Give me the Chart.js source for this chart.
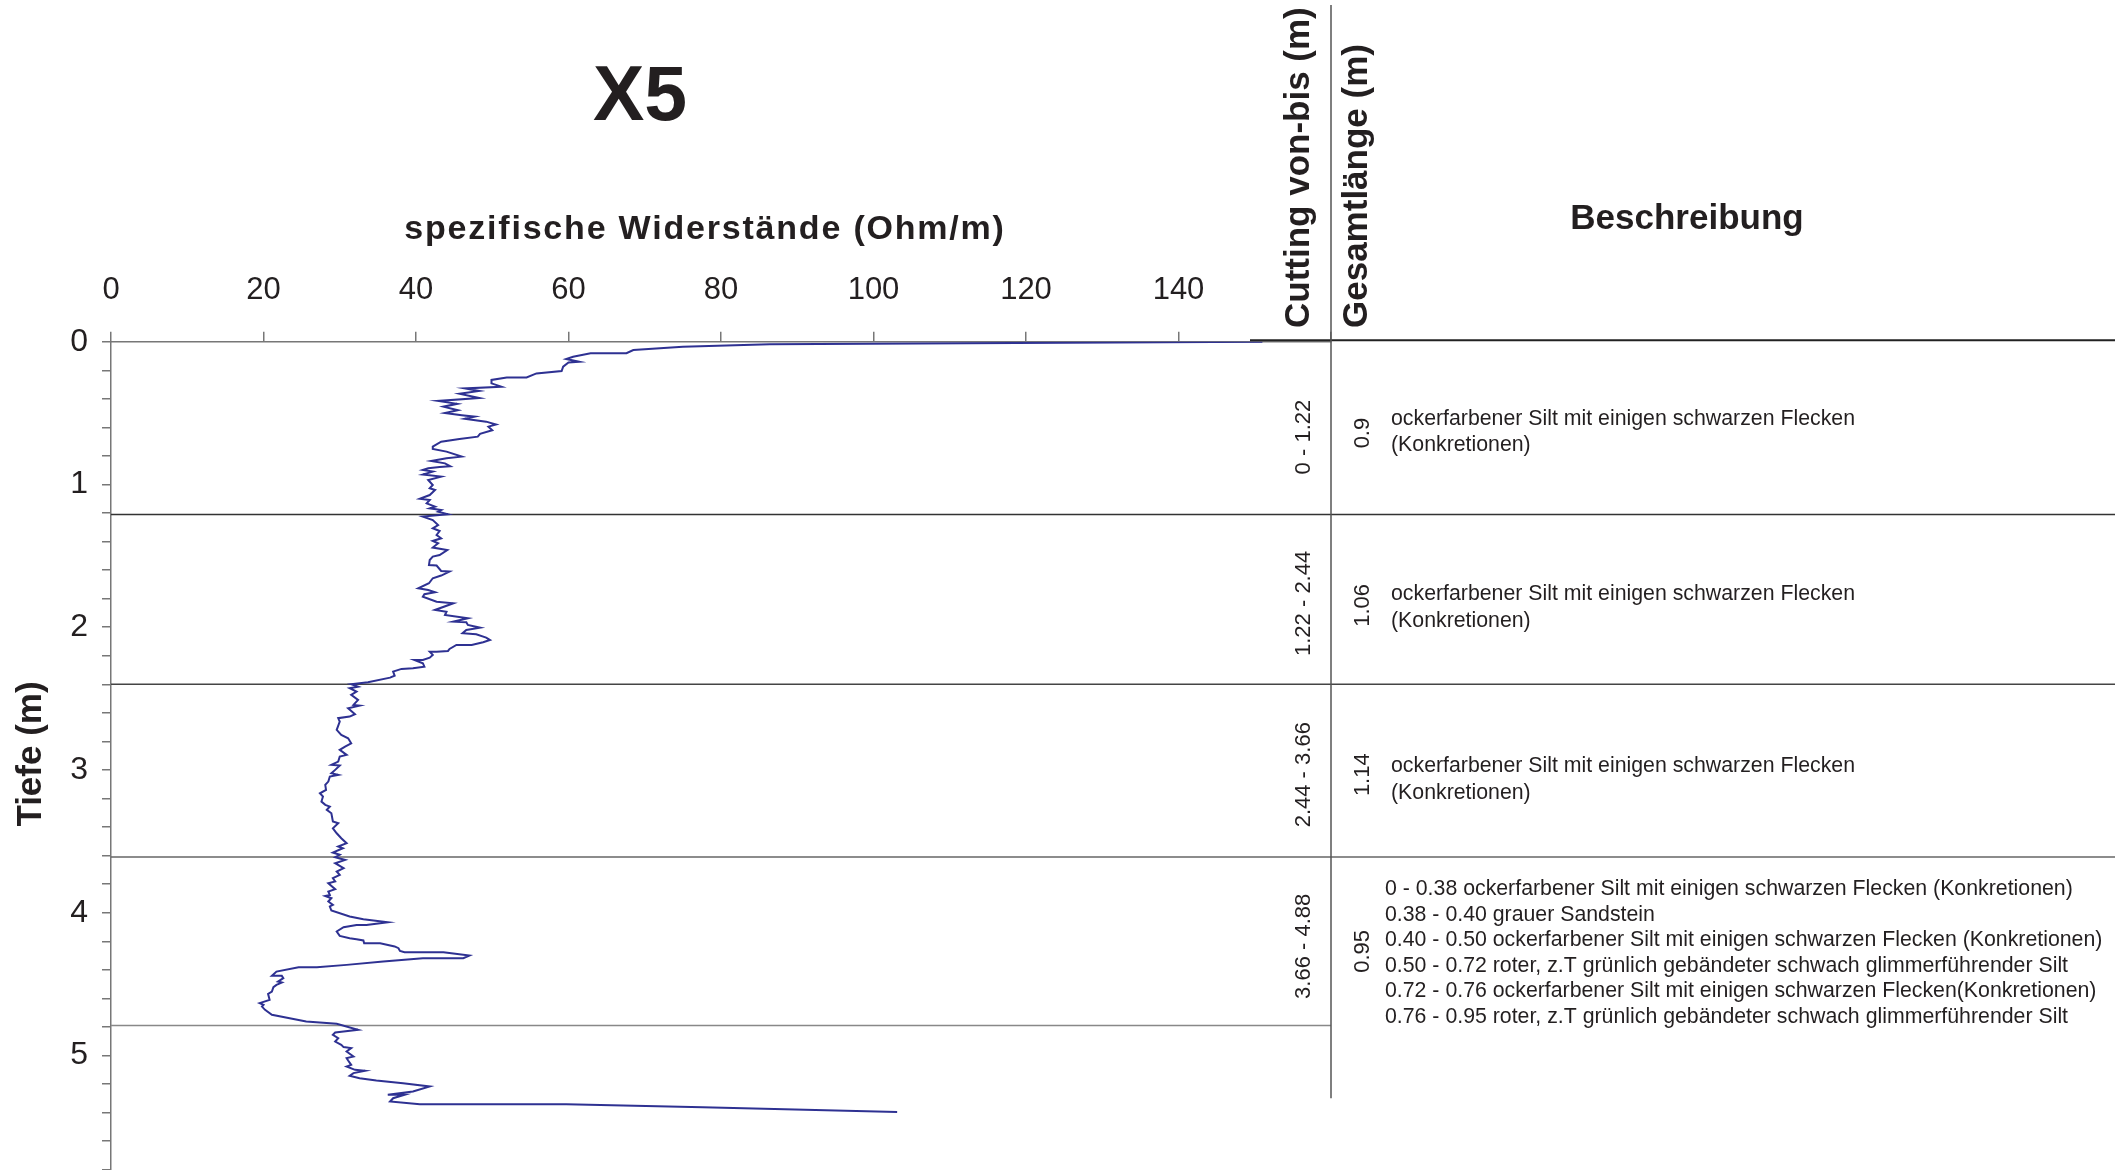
<!DOCTYPE html>
<html lang="de">
<head>
<meta charset="utf-8">
<title>X5</title>
<script src="https://cdn.jsdelivr.net/npm/chart.js@4.4.1/dist/chart.umd.min.js"></script>
<style>
  html, body { margin: 0; padding: 0; background: #ffffff; overflow: hidden; }
  canvas { display: block; }
</style>
</head>
<body>
<canvas id="c" width="2123" height="1230"></canvas>
<script>
// ---------- data ----------
const chartTitle = 'X5';
const xAxisTitle = 'spezifische Widerstände (Ohm/m)';
const yAxisTitle = 'Tiefe (m)';
const xTicks = [0, 20, 40, 60, 80, 100, 120, 140];
const yTickLabels = [0, 1, 2, 3, 4, 5];

const resistivity = [
  151.0, 86.4, 75.0, 68.5, 67.6, 62.9, 60.6, 59.7, 61.4, 60.0, 59.3, 59.1, 55.8, 54.5, 51.9, 49.9, 49.9, 51.2, 46.4, 48.3,
  45.7, 48.3, 42.9, 45.4, 43.6, 45.5, 43.8, 46.0, 47.7, 46.4, 49.2, 50.5, 49.5, 50.0, 48.4, 48.1, 45.7, 43.3, 42.2, 42.2,
  44.0, 46.0, 44.0, 42.0, 43.8, 44.5, 43.1, 41.6, 40.9, 42.2, 40.9, 43.3, 41.6, 42.2, 41.8, 42.5, 41.8, 40.5, 41.8, 41.4,
  42.5, 41.8, 43.3, 42.9, 44.2, 40.9, 42.2, 42.9, 42.2, 43.1, 42.7, 43.3, 42.2, 42.9, 42.2, 44.1, 43.1, 42.2, 41.8, 41.7,
  42.7, 43.3, 44.4, 43.3, 42.2, 41.7, 40.3, 41.6, 42.5, 41.1, 40.9, 42.7, 44.9, 42.5, 44.0, 43.8, 46.8, 44.9, 46.6, 46.8,
  48.4, 46.6, 46.1, 47.9, 49.2, 49.7, 48.8, 47.3, 45.3, 44.4, 44.2, 42.7, 41.8, 42.2, 41.8, 40.9, 39.8, 40.9, 41.1, 39.6,
  38.1, 37.0, 37.2, 36.6, 33.7, 31.5, 32.4, 31.3, 32.2, 31.5, 32.4, 31.8, 32.6, 31.1, 32.0, 31.3, 29.8, 30.0, 29.6, 30.2,
  31.1, 31.5, 30.7, 30.0, 30.9, 30.0, 29.8, 28.9, 30.0, 29.4, 28.9, 29.8, 28.7, 28.5, 28.1, 28.2, 27.4, 27.8, 27.6, 28.1,
  28.7, 28.3, 28.9, 29.1, 29.8, 29.1, 29.6, 30.2, 30.9, 29.8, 30.4, 29.1, 30.0, 29.4, 30.7, 29.4, 30.5, 29.6, 30.0, 29.1,
  29.4, 28.5, 29.4, 28.5, 28.7, 28.1, 28.9, 28.5, 29.1, 28.7, 28.9, 31.3, 33.1, 36.3, 33.5, 32.2, 30.5, 29.6, 30.0, 31.3,
  32.2, 33.1, 33.2, 35.3, 37.2, 37.7, 37.9, 38.5, 43.6, 47.0, 46.2, 40.9, 35.7, 30.9, 27.0, 24.6, 21.7, 21.1, 22.4, 22.6,
  21.9, 22.4, 21.7, 21.3, 21.1, 20.6, 20.8, 19.5, 20.0, 19.8, 20.2, 21.1, 25.6, 29.6, 32.4, 30.5, 29.4, 29.1, 29.8, 29.4,
  30.2, 30.5, 31.5, 30.9, 31.8, 30.9, 31.1, 31.5, 30.9, 32.0, 33.3, 31.8, 31.3, 32.6, 34.8, 38.3, 41.8, 39.6, 36.3, 38.5,
  37.0, 36.6, 40.5, 59.7, 77.6, 103.1
];
const depth = [
  0.000, 0.018, 0.035, 0.058, 0.081, 0.081, 0.105, 0.121, 0.140, 0.145, 0.175, 0.205, 0.222, 0.250, 0.250, 0.268, 0.292, 0.315, 0.327, 0.345,
  0.365, 0.395, 0.415, 0.435, 0.455, 0.480, 0.500, 0.515, 0.525, 0.540, 0.560, 0.580, 0.595, 0.620, 0.645, 0.665, 0.681, 0.700, 0.735, 0.751,
  0.770, 0.805, 0.817, 0.835, 0.852, 0.872, 0.878, 0.887, 0.898, 0.910, 0.930, 0.945, 0.969, 1.004, 1.027, 1.039, 1.074, 1.100, 1.109, 1.132,
  1.155, 1.167, 1.179, 1.190, 1.209, 1.225, 1.249, 1.284, 1.307, 1.326, 1.354, 1.377, 1.396, 1.412, 1.442, 1.459, 1.494, 1.505, 1.529, 1.564,
  1.568, 1.606, 1.610, 1.638, 1.657, 1.692, 1.727, 1.739, 1.755, 1.769, 1.786, 1.821, 1.832, 1.879, 1.891, 1.914, 1.937, 1.961, 1.965, 1.984,
  2.003, 2.019, 2.042, 2.049, 2.073, 2.089, 2.105, 2.124, 2.124, 2.152, 2.166, 2.171, 2.171, 2.194, 2.213, 2.229, 2.229, 2.252, 2.276, 2.287,
  2.292, 2.311, 2.339, 2.353, 2.385, 2.399, 2.416, 2.427, 2.451, 2.474, 2.509, 2.544, 2.549, 2.567, 2.609, 2.626, 2.637, 2.661, 2.719, 2.754,
  2.778, 2.813, 2.836, 2.859, 2.894, 2.906, 2.941, 2.964, 2.969, 2.999, 3.023, 3.034, 3.046, 3.081, 3.104, 3.139, 3.163, 3.186, 3.221, 3.244,
  3.256, 3.279, 3.303, 3.361, 3.373, 3.408, 3.443, 3.478, 3.513, 3.536, 3.548, 3.578, 3.594, 3.611, 3.630, 3.653, 3.688, 3.711, 3.735, 3.758,
  3.781, 3.793, 3.835, 3.851, 3.875, 3.882, 3.898, 3.921, 3.945, 3.956, 3.984, 4.026, 4.045, 4.066, 4.085, 4.085, 4.101, 4.131, 4.162, 4.178,
  4.185, 4.194, 4.213, 4.213, 4.236, 4.248, 4.267, 4.276, 4.276, 4.300, 4.318, 4.318, 4.341, 4.365, 4.381, 4.381, 4.412, 4.442, 4.442, 4.458,
  4.482, 4.489, 4.505, 4.521, 4.552, 4.568, 4.610, 4.633, 4.645, 4.657, 4.680, 4.715, 4.762, 4.778, 4.820, 4.832, 4.839, 4.855, 4.878, 4.902,
  4.925, 4.941, 4.948, 4.972, 5.007, 5.018, 5.035, 5.065, 5.077, 5.100, 5.107, 5.123, 5.142, 5.159, 5.175, 5.194, 5.217, 5.252, 5.275, 5.275,
  5.299, 5.322, 5.341, 5.341, 5.362, 5.395
];

// table (right-hand side)
const cuttingHeader = 'Cutting von-bis (m)';
const lengthHeader = 'Gesamtlänge (m)';
const descHeader = 'Beschreibung';
const sectionBounds = [0, 1.21, 2.40, 3.61, 4.79];
const cuttingRanges = ['0 - 1.22', '1.22 - 2.44', '2.44 - 3.66', '3.66 - 4.88'];
const totalLengths = ['0.9', '1.06', '1.14', '0.95'];
const descriptions = [
  ['ockerfarbener Silt mit einigen schwarzen Flecken', '(Konkretionen)'],
  ['ockerfarbener Silt mit einigen schwarzen Flecken', '(Konkretionen)'],
  ['ockerfarbener Silt mit einigen schwarzen Flecken', '(Konkretionen)'],
  [
    '0 - 0.38 ockerfarbener Silt mit einigen schwarzen Flecken (Konkretionen)',
    '0.38 - 0.40 grauer Sandstein',
    '0.40 - 0.50 ockerfarbener Silt mit einigen schwarzen Flecken (Konkretionen)',
    '0.50 - 0.72 roter, z.T grünlich gebändeter schwach glimmerführender Silt',
    '0.72 - 0.76 ockerfarbener Silt mit einigen schwarzen Flecken(Konkretionen)',
    '0.76 - 0.95 roter, z.T grünlich gebändeter schwach glimmerführender Silt'
  ]
];

// ---------- styling / layout ----------
const FONT = '"Liberation Sans", Arial, Helvetica, sans-serif';
const TEXT = '#231f20';
const AXIS = '#777777';
const LINE_BLUE = '#2e3192';
const TABLE_RIGHT = 2115;
const cutOffsets = [9, 4, 4, 5];
const lenOffsets = [5, 6, 4, 10];
const descOffsets = [4, 8, 9, 12];

const points = depth.map((d, i) => ({ x: resistivity[i], y: d }));

const tablePlugin = {
  id: 'tablePlugin',
  beforeDatasetsDraw(chart) {
    const ctx = chart.ctx, ys = chart.scales.y, ca = chart.chartArea;
    ctx.save();
    const colors = ['#222', '#333', '#444', '#666', '#888'];
    for (let i = 1; i < sectionBounds.length; i++) {
      const y = ys.getPixelForValue(sectionBounds[i]);
      ctx.strokeStyle = colors[i];
      ctx.lineWidth = 1.5;
      ctx.beginPath();
      ctx.moveTo(ca.left, y);
      ctx.lineTo(i === sectionBounds.length - 1 ? ca.right : TABLE_RIGHT, y);
      ctx.stroke();
    }
    ctx.restore();
  },
  afterDraw(chart) {
    const ctx = chart.ctx, ys = chart.scales.y, ca = chart.chartArea;
    ctx.save();
    ctx.fillStyle = TEXT;
    ctx.textBaseline = 'alphabetic';

    // main title
    ctx.textAlign = 'center';
    ctx.font = 'bold 77px ' + FONT;
    ctx.fillText(chartTitle, 640, 120);

    // x axis title
    ctx.font = 'bold 34px ' + FONT;
    if ('letterSpacing' in ctx) ctx.letterSpacing = '1.8px';
    ctx.fillText(xAxisTitle, 705, 239);
    if ('letterSpacing' in ctx) ctx.letterSpacing = '0px';

    // y axis title
    ctx.save();
    ctx.translate(41, 754);
    ctx.rotate(-Math.PI / 2);
    ctx.font = 'bold 35px ' + FONT;
    ctx.textAlign = 'center';
    ctx.fillText(yAxisTitle, 0, 0);
    ctx.restore();

    // table frame
    const y0 = ys.getPixelForValue(0);
    ctx.strokeStyle = '#222';
    ctx.lineWidth = 2;
    ctx.beginPath();
    ctx.moveTo(1250, y0 - 1.5);
    ctx.lineTo(TABLE_RIGHT, y0 - 1.5);
    ctx.stroke();

    ctx.strokeStyle = '#555';
    ctx.lineWidth = 1.5;
    ctx.beginPath();
    ctx.moveTo(ca.right, 5);
    ctx.lineTo(ca.right, ys.getPixelForValue(5.3));
    ctx.stroke();

    // headers (rotated)
    ctx.font = 'bold 35px ' + FONT;
    ctx.textAlign = 'left';
    ctx.save();
    ctx.translate(1309, 328);
    ctx.rotate(-Math.PI / 2);
    ctx.fillText(cuttingHeader, 0, 0);
    ctx.restore();
    ctx.save();
    ctx.translate(1367, 328);
    ctx.rotate(-Math.PI / 2);
    ctx.fillText(lengthHeader, 0, 0);
    ctx.restore();

    ctx.textAlign = 'center';
    ctx.font = 'bold 35px ' + FONT;
    ctx.fillText(descHeader, 1687, 229);

    // rows
    for (let i = 0; i < cuttingRanges.length; i++) {
      const top = ys.getPixelForValue(sectionBounds[i]);
      const bot = ys.getPixelForValue(sectionBounds[i + 1]);
      const mid = (top + bot) / 2;

      ctx.font = '22px ' + FONT;
      ctx.textAlign = 'center';
      ctx.textBaseline = 'middle';
      ctx.save();
      ctx.translate(1304, mid + cutOffsets[i]);
      ctx.rotate(-Math.PI / 2);
      ctx.fillText(cuttingRanges[i], 0, 0);
      ctx.restore();

      ctx.save();
      ctx.translate(1363, mid + lenOffsets[i]);
      ctx.rotate(-Math.PI / 2);
      ctx.fillText(totalLengths[i], 0, 0);
      ctx.restore();

      const lines = descriptions[i];
      const lh = lines.length > 2 ? 25.5 : 26.7;
      const x = lines.length > 2 ? 1385 : 1391;
      const blockMid = mid + descOffsets[i];
      ctx.font = '21.3px ' + FONT;
      ctx.textAlign = 'left';
      ctx.textBaseline = 'middle';
      lines.forEach((t, k) => {
        ctx.fillText(t, x, blockMid + (k - (lines.length - 1) / 2) * lh);
      });
    }
    ctx.restore();
  }
};

new Chart(document.getElementById('c'), {
  type: 'scatter',
  data: {
    datasets: [{
      label: 'Widerstand',
      data: points,
      showLine: true,
      borderColor: LINE_BLUE,
      backgroundColor: LINE_BLUE,
      borderWidth: 2,
      pointRadius: 0,
      tension: 0,
      fill: false
    }]
  },
  options: {
    responsive: false,
    animation: false,
    devicePixelRatio: 1,
    layout: { padding: { left: 0, top: 0, right: 792, bottom: 31.7 } },
    plugins: { legend: { display: false }, tooltip: { enabled: false }, title: { display: false } },
    scales: {
      x: {
        type: 'linear',
        position: 'top',
        min: 0,
        max: 160,
        afterBuildTicks: s => { s.ticks = xTicks.concat([160]).map(v => ({ value: v })); },
        ticks: {
          autoSkip: false,
          color: TEXT,
          font: { family: FONT, size: 31 },
          padding: 23,
          maxRotation: 0,
          callback: v => (xTicks.includes(v) ? String(v) : '')
        },
        grid: { drawOnChartArea: false, drawTicks: true, tickLength: 10, color: AXIS, lineWidth: 1.5 },
        border: { display: true, color: AXIS, width: 1.5 },
        afterFit: s => { s.height = 341.7; s.paddingLeft = 0; s.paddingRight = 0; }
      },
      y: {
        type: 'linear',
        reverse: true,
        min: 0,
        max: 6,
        ticks: {
          stepSize: 0.2,
          maxTicksLimit: 100,
          autoSkip: false,
          color: TEXT,
          font: { family: FONT, size: 32 },
          padding: 14,
          callback: v => {
            const r = Math.round(v);
            return (Math.abs(v - r) < 1e-6 && yTickLabels.includes(r)) ? String(r) : '';
          }
        },
        grid: { drawOnChartArea: false, drawTicks: true, tickLength: 9, color: AXIS, lineWidth: 1.5 },
        border: { display: true, color: AXIS, width: 1.5 },
        afterFit: s => { s.width = 111; s.paddingTop = 0; s.paddingBottom = 0; }
      }
    }
  },
  plugins: [tablePlugin]
});
</script>
</body>
</html>
